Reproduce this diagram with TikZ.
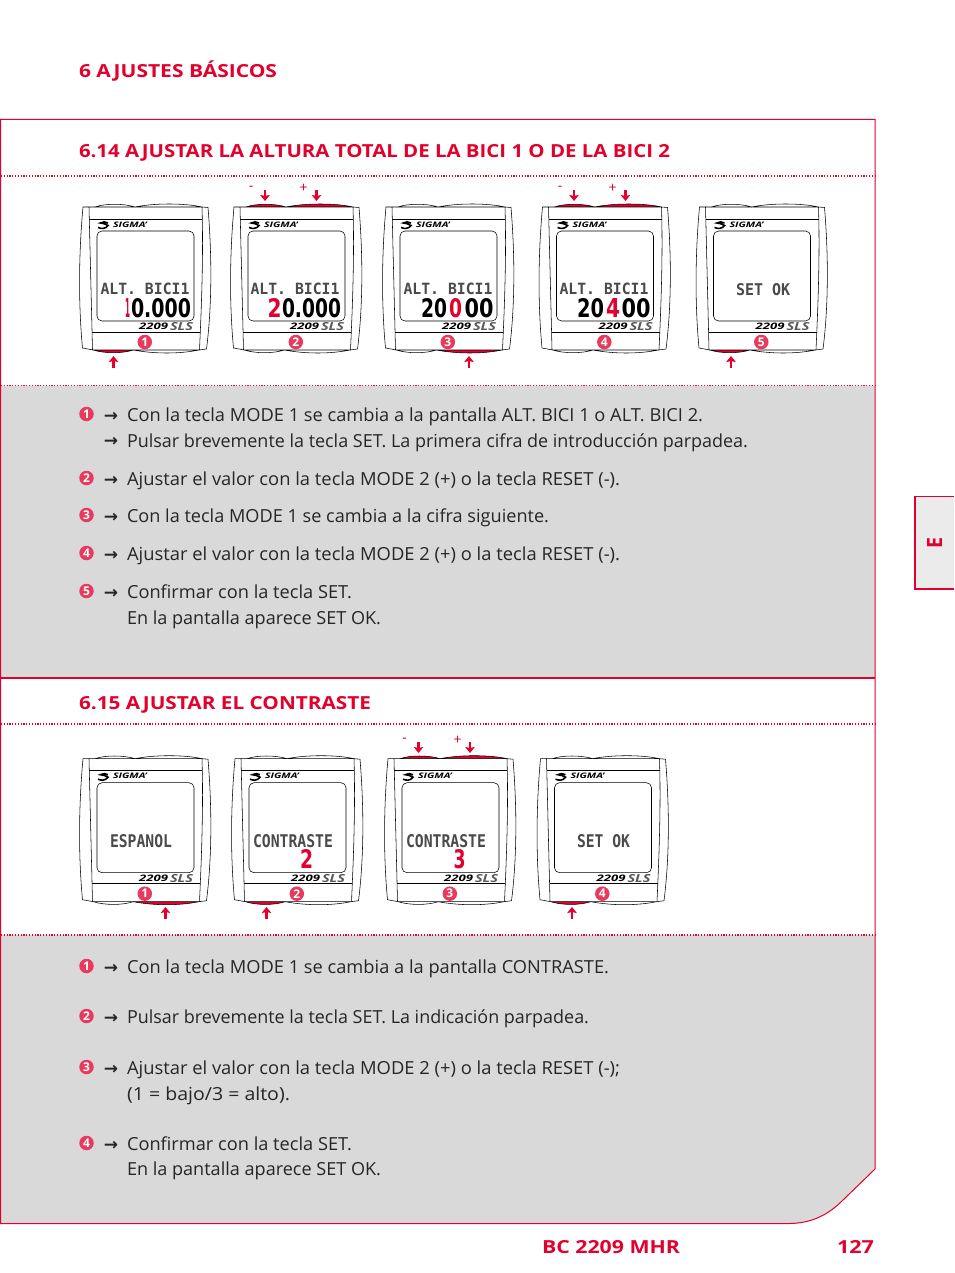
\documentclass[tikz,border=0pt]{standalone}
\usepackage{fontspec}
\usepackage{graphicx}
\setmainfont{Open Sans}
\newfontfamily\monof{DejaVu Sans Mono}
\newfontfamily\arrowf{DejaVu Sans}
\definecolor{sred}{HTML}{E2002D}
\definecolor{cred}{HTML}{E83A5C}
\definecolor{pagegray}{HTML}{D9D9D9}
\definecolor{tabgray}{HTML}{EBEBEB}
\definecolor{bodyink}{HTML}{262626}
\definecolor{lcdink}{HTML}{4A4A4A}
\usetikzlibrary{arrows.meta}
\tikzset{
  txt/.style={inner sep=0pt,outer sep=0pt,anchor=base west},
  numc/.style={circle,fill=cred,text=white,minimum size=14.5pt,inner sep=0pt,font=\fontsize{12}{12}\selectfont\bfseries},
  devline/.style={draw=black,line width=.55pt,line join=round},
  rarrow/.style={draw=sred,line width=2.3pt,-{Stealth[length=6pt,width=9.5pt,inset=1pt]}},
  dotline/.style={draw=sred,line width=1.3pt,dash pattern=on 1.2pt off 1.6pt},
  listarrow/.style={inner sep=0pt,font=\arrowf\fontsize{17}{17}\selectfont\bfseries,text=bodyink}
}
% name, x, y, TL, TR, BL, BR fill colours, number
\newcommand{\device}[8]{%
\begin{scope}[shift={(#2,#3)}]
  \fill[white] (3.5,1) -- (128.5,1.5) .. controls (132,50) and (132,100) .. (127,143) -- (3,142) .. controls (-1,100) and (-1,50) .. (3.5,1) -- cycle;
  \path[devline,fill=#4] (15.5,1) .. controls (25,-2.6) and (45,-2.6) .. (55.5,1) -- cycle;
  \path[devline,fill=#5] (55.5,1) .. controls (75,-3) and (105,-3) .. (122.5,1) -- cycle;
  \path[devline,fill=#6] (13.8,144) .. controls (25,147.6) and (43,147.6) .. (53.8,144) -- cycle;
  \path[devline,fill=#7] (53.8,144) .. controls (75,148) and (100,148) .. (119.5,144) -- cycle;
  \path[devline] (15.5,1) -- (3.5,1) .. controls (-1,50) and (-1,100) .. (3,142) -- (13.8,144);
  \path[devline] (122.5,1) -- (128.5,1.5) .. controls (132.5,50) and (132.5,100) .. (127,143) -- (119.5,144);
  \path[devline] (9.5,1) -- (13,144);
  \path[devline] (122.5,1) .. controls (124,50) and (122,100) .. (120,144);
  \path[devline] (9.5,13) -- (122.5,13);
  \path[devline] (12.5,126) -- (120.5,126);
  \path[devline,rounded corners=5pt] (17.5,25) rectangle (114.5,115);
  % logo
  \path[draw=black,line width=1.6pt] (18.5,21.5) .. controls (22,23) and (26,23) .. (28.5,19.5) .. controls (26,17) and (23,18) .. (21,17) .. controls (23,15.5) and (26,15.5) .. (28.5,17);
  \node[txt] (#1logo) at (33.5,21) {\resizebox{34pt}{5.5pt}{\itshape\bfseries SIGMA'}};
  \node[txt] (#1model) at (59.5,123.3) {\resizebox{29pt}{6.5pt}{\itshape\bfseries 2209}};
  \node[txt,text=black!65] (#1sls) at (90.5,124.5) {\resizebox{23pt}{8pt}{\itshape\bfseries SLS}};
  \node[numc] (#1num) at (65.3,136) {#8};
\end{scope}}
% name, x, baseline, width, height, colour, text
\newcommand{\lcd}[7]{\node[txt,text=#6] (#1) at (#2,#3) {\resizebox{#4pt}{#5pt}{\monof\bfseries #7}};}
\newcommand{\bigd}[7]{\node[txt,text=#6] (#1) at (#2,#3) {\resizebox{#4pt}{#5pt}{\arrowf\bfseries #7}};}
\newcommand{\bodyl}[4]{\node[txt,text=bodyink] (#1) at (127,#2) {\resizebox{#3pt}{\height}{\fontsize{18}{18}\selectfont #4}};}
\newcommand{\listnum}[3]{\node[numc] (#1) at (86.5,#2) {#3};}
\newcommand{\larrow}[2]{\node[listarrow] (#1) at (111,#2+2.5) {→};}
\newcommand{\headl}[5]{\node[txt,text=sred] (#1) at (#2,#3) {\resizebox{#4pt}{\height}{\fontsize{18}{18}\selectfont\bfseries #5}};}
\newcommand{\pressarrow}[4]{\coordinate (#1s) at (#2,#3); \coordinate (#1e) at (#2,#4); \path[rarrow] (#1s) -- (#1e);}
\newcommand{\signt}[4]{\node[text=sred,inner sep=0pt,font=\fontsize{14}{14}\selectfont] (#1) at (#2,#3) {#4};}
\begin{document}
\begin{tikzpicture}[x=1pt,y=-1pt]
\useasboundingbox (0,0) rectangle (954,1273);
\fill[white] (0,0) rectangle (954,1273);
% grey panels
\fill[pagegray] (0.5,385.5) rectangle (875,678);
\fill[pagegray] (0.5,935) -- (875,935) -- (875,1169) -- (843,1200) .. controls (828,1215) and (812,1223) .. (790,1223.5) -- (0.5,1223.5) -- cycle;
% frame
\draw[sred,line width=1pt] (0.5,119.5) -- (875,119.5) -- (875,1169) -- (843,1200) .. controls (828,1215) and (812,1223) .. (790,1223.5) -- (0.5,1223.5) -- cycle;
\draw[sred,line width=1.1pt] (0.5,678) -- (875,678);
\draw[dotline] (1,176) -- (875,176);
\draw[dotline] (1,385.5) -- (875,385.5);
\draw[dotline] (1,724) -- (875,724);
\draw[dotline] (1,935) -- (875,935);
% side tab
\fill[tabgray] (915,496.5) rectangle (954,589);
\draw[sred,line width=1.3pt] (954,496.5) -- (915,496.5) -- (915,589) -- (954,589);
\node[text=sred,rotate=90,inner sep=0pt] (tabe) at (934.5,542.5) {\resizebox{11pt}{15pt}{\bfseries E}};
% headings
\headl{h1}{79}{78}{198}{6 AJUSTES BÁSICOS}
\headl{h2}{79}{157.5}{591}{6.14 AJUSTAR LA ALTURA TOTAL DE LA BICI 1 O DE LA BICI 2}
\headl{h3}{79}{709}{292}{6.15 AJUSTAR EL CONTRASTE}
\headl{f1}{542}{1253}{138}{BC 2209 MHR}
\headl{f2}{837}{1253}{37}{127}
% devices row 1
\device{a}{79.5}{206}{white}{white}{sred}{white}{1}
\device{b}{230.5}{206}{sred}{sred}{white}{white}{2}
\device{c}{382.5}{206}{white}{white}{white}{sred}{3}
\device{d}{539}{206}{sred}{sred}{white}{white}{4}
\device{e}{696}{206}{white}{white}{sred}{white}{5}
\lcd{a1}{100.5}{294.5}{89}{11.5}{lcdink}{ALT. BICI1}
\bigd{a2}{125}{317}{5}{19}{sred}{1}
\bigd{a3}{131}{317}{60}{19}{black}{0.000}
\lcd{b1}{250.5}{294.5}{89}{11.5}{lcdink}{ALT. BICI1}
\bigd{b2}{267.5}{317}{14}{19}{sred}{2}
\bigd{b3}{282}{317}{59}{19}{black}{0.000}
\lcd{c1}{403.5}{294.5}{89}{11.5}{lcdink}{ALT. BICI1}
\bigd{c2}{421}{317}{26}{19}{black}{20}
\bigd{c3}{449}{317}{13}{19}{sred}{0}
\bigd{c4}{464.5}{317}{29}{19}{black}{00}
\lcd{d1}{559.5}{294.5}{89}{11.5}{lcdink}{ALT. BICI1}
\bigd{d2}{577}{317}{27}{19}{black}{20}
\bigd{d3}{606}{317}{14}{19}{sred}{4}
\bigd{d4}{621.5}{317}{29}{19}{black}{00}
\lcd{e1}{736}{295}{54}{12}{lcdink}{SET OK}
% devices row 2
\device{f}{79.5}{757.7}{white}{white}{white}{sred}{1}
\device{g}{231.5}{757.7}{white}{white}{sred}{white}{2}
\device{i}{384.5}{757.7}{sred}{sred}{white}{white}{3}
\device{j}{537}{757.7}{white}{white}{sred}{white}{4}
\lcd{f1t}{110}{847}{62}{13}{lcdink}{ESPANOL}
\lcd{g1}{253}{847}{80}{13}{lcdink}{CONTRASTE}
\bigd{g2}{300}{868.5}{13}{19}{sred}{2}
\lcd{i1}{406}{847}{80}{13}{lcdink}{CONTRASTE}
\bigd{i2}{453.5}{868.5}{12}{19}{sred}{3}
\lcd{j1}{577}{847}{53}{13}{lcdink}{SET OK}
% press arrows and signs row 1
\pressarrow{pa}{113.5}{367.5}{356}
\pressarrow{pb1}{265}{190}{201}
\pressarrow{pb2}{316.5}{190}{201}
\signt{sb1}{251}{188.5}{-}
\signt{sb2}{303.5}{188.5}{+}
\pressarrow{pc}{469}{367.5}{356}
\pressarrow{pd1}{574}{190}{201}
\pressarrow{pd2}{625.5}{190}{201}
\signt{sd1}{560}{188.5}{-}
\signt{sd2}{612.5}{188.5}{+}
\pressarrow{pe}{731}{367.5}{356}
% press arrows and signs row 2
\pressarrow{pf}{165.5}{918.5}{907}
\pressarrow{pg}{266.5}{918.5}{907}
\pressarrow{pi1}{418.5}{742}{753}
\pressarrow{pi2}{470}{742}{753}
\signt{si1}{404.5}{740.5}{-}
\signt{si2}{457.5}{740.5}{+}
\pressarrow{pj}{572}{918.5}{907}
% list 1
\listnum{n1}{414}{1}\larrow{r1}{414}\bodyl{t1}{421}{576}{Con la tecla MODE 1 se cambia a la pantalla ALT. BICI 1 o ALT. BICI 2.}
\larrow{r2}{439.5}\bodyl{t2}{447}{621}{Pulsar brevemente la tecla SET. La primera cifra de introducción parpadea.}
\listnum{n2}{478}{2}\larrow{r3}{478}\bodyl{t3}{485}{493}{Ajustar el valor con la tecla MODE 2 (+) o la tecla RESET (-).}
\listnum{n3}{515}{3}\larrow{r4}{515}\bodyl{t4}{522}{422}{Con la tecla MODE 1 se cambia a la cifra siguiente.}
\listnum{n4}{553}{4}\larrow{r5}{553}\bodyl{t5}{560}{493}{Ajustar el valor con la tecla MODE 2 (+) o la tecla RESET (-).}
\listnum{n5}{591}{5}\larrow{r6}{591}\bodyl{t6}{598}{225}{Confirmar con la tecla SET.}
\bodyl{t7}{624}{254}{En la pantalla aparece SET OK.}
% list 2
\listnum{m1}{966}{1}\larrow{s1}{966}\bodyl{u1}{973}{482}{Con la tecla MODE 1 se cambia a la pantalla CONTRASTE.}
\listnum{m2}{1016}{2}\larrow{s2}{1016}\bodyl{u2}{1023.5}{462}{Pulsar brevemente la tecla SET. La indicación parpadea.}
\listnum{m3}{1067}{3}\larrow{s3}{1067}\bodyl{u3}{1074}{493}{Ajustar el valor con la tecla MODE 2 (+) o la tecla RESET (-);}
\bodyl{u4}{1100}{163}{(1 = bajo/3 = alto).}
\listnum{m4}{1143}{4}\larrow{s4}{1143}\bodyl{u5}{1150}{225}{Confirmar con la tecla SET.}
\bodyl{u6}{1175}{254}{En la pantalla aparece SET OK.}
\end{tikzpicture}
\end{document}
